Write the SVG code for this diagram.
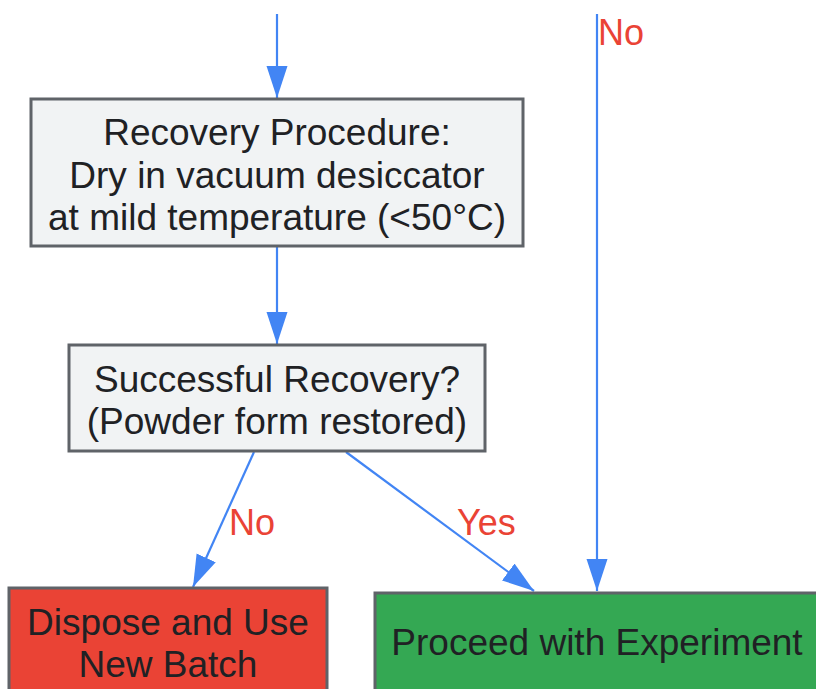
<svg xmlns="http://www.w3.org/2000/svg" width="816" height="689" viewBox="0 0 816 689">
<style>
.box{stroke:#5f6368;stroke-width:3}
.t{font-family:"Liberation Sans",Arial,sans-serif;font-size:37px;fill:#202124;text-anchor:middle}
.lbl{font-family:"Liberation Sans",Arial,sans-serif;font-size:36px;fill:#ea4335}
.e{stroke:#4285f4;stroke-width:2.2;fill:none}
</style>
<defs>
<marker id="ah" markerWidth="32" markerHeight="22" viewBox="0 0 32 22" refX="32" refY="11" orient="auto" markerUnits="userSpaceOnUse">
<path d="M0,0.5 L32,11 L0,21.5 z" fill="#4285f4"/>
</marker>
</defs>
<rect width="816" height="689" fill="#ffffff"/>
<g id="connectors">
<line class="e" x1="277" y1="14" x2="277" y2="98" marker-end="url(#ah)"/>
<line class="e" x1="277" y1="246" x2="277" y2="344" marker-end="url(#ah)"/>
<line class="e" x1="254" y1="452" x2="193" y2="587" marker-end="url(#ah)"/>
<line class="e" x1="346" y1="452" x2="534" y2="591" marker-end="url(#ah)"/>
<line class="e" x1="597" y1="14" x2="597" y2="591" marker-end="url(#ah)"/>
<text class="lbl" x="598" y="45">No</text>
<text class="lbl" x="229" y="535">No</text>
<text class="lbl" x="457" y="535">Yes</text>
</g>
<g id="recovery">
<rect class="box" x="31" y="99" width="492" height="147" fill="#f1f3f4"/>
<text class="t" x="277" y="145">Recovery Procedure:</text>
<text class="t" x="277" y="188">Dry in vacuum desiccator</text>
<text class="t" x="277" y="230">at mild temperature (&lt;50°C)</text>
</g>
<g id="success">
<rect class="box" x="69" y="345" width="416" height="106" fill="#f1f3f4"/>
<text class="t" x="277" y="392">Successful Recovery?</text>
<text class="t" x="277" y="434">(Powder form restored)</text>
</g>
<g id="dispose">
<rect class="box" x="9" y="588" width="318" height="110" fill="#ea4335"/>
<text class="t" x="168" y="635">Dispose and Use</text>
<text class="t" x="168" y="677">New Batch</text>
</g>
<g id="proceed">
<rect class="box" x="375" y="593" width="450" height="105" fill="#34a853"/>
<text class="t" x="597" y="655">Proceed with Experiment</text>
</g>
</svg>
